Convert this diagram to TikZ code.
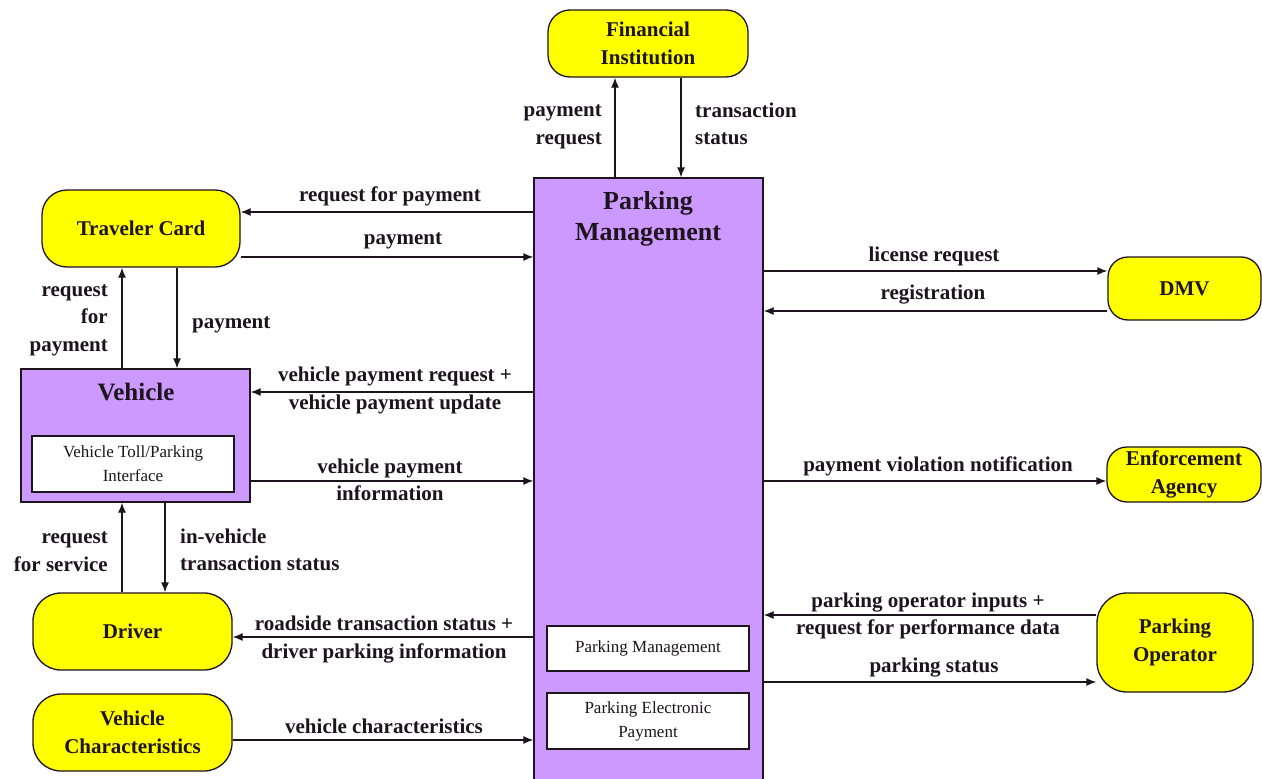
\documentclass[tikz,border=0pt]{standalone}
\usepackage{fontspec}
\setmainfont{Liberation Serif}
\usetikzlibrary{arrows.meta}
\definecolor{ylw}{RGB}{255,255,0}
\definecolor{pur}{RGB}{204,153,255}
\definecolor{ink}{RGB}{30,20,30}
\begin{document}
\begin{tikzpicture}[x=1pt,y=-1pt,
  ext/.style={draw=ink, line width=1.3pt, fill=ylw, rounded corners=22pt, align=center,
    font=\fontsize{21}{28}\selectfont\bfseries, text=ink, inner sep=0pt},
  sys/.style={draw=ink, line width=1.3pt, fill=pur, inner sep=0pt},
  inner/.style={draw=ink, line width=1.3pt, fill=white, align=center,
    font=\fontsize{17}{24}\selectfont, text=ink, inner sep=0pt},
  ttl/.style={font=\fontsize{25}{31}\selectfont\bfseries, text=ink, align=center, inner sep=0pt},
  lbl/.style={font=\fontsize{21}{27.5}\selectfont\bfseries, text=ink, align=center, inner sep=0pt},
  arr/.style={draw=ink, line width=1.3pt, -{Latex[length=10pt,width=8pt]}}]
\useasboundingbox[fill=white] (0,0) rectangle (1262,779);
% nodes
\node[sys, minimum width=229pt, minimum height=607pt] (pm) at (648.5,481.5) {};
\node[ttl, font=\fontsize{26}{31}\selectfont\bfseries] (pmt) at (648,219) {Parking\\Management};
\node[inner, minimum width=202pt, minimum height=45pt] (pmi1) at (648,648.5) {Parking Management};
\node[inner, minimum width=202pt, minimum height=56pt] (pmi2) at (648,721) {Parking Electronic\\Payment};
\node[ext, minimum width=200pt, minimum height=67pt] (fi) at (648,43.5) {Financial\\Institution};
\node[ext, minimum width=198pt, minimum height=77pt, rounded corners=25pt] (tc) at (141,228.5) {Traveler Card};
\node[sys, minimum width=229pt, minimum height=133pt] (veh) at (135.5,435.5) {};
\node[ttl] (veht) at (136,392) {Vehicle};
\node[inner, minimum width=202pt, minimum height=56pt] (vint) at (133,464) {Vehicle Toll/Parking\\Interface};
\node[ext, minimum width=199pt, minimum height=77pt, rounded corners=28pt] (drv) at (132.5,631.5) {Driver};
\node[ext, minimum width=199pt, minimum height=77pt, rounded corners=28pt] (vc) at (132.5,732.5) {Vehicle\\Characteristics};
\node[ext, minimum width=153pt, minimum height=63pt, rounded corners=20pt] (dmv) at (1184.5,288.5) {DMV};
\node[ext, minimum width=154pt, minimum height=55pt, rounded corners=20pt] (ea) at (1184,474.5) {Enforcement\\Agency};
\node[ext, minimum width=156pt, minimum height=99pt, rounded corners=30pt] (po) at (1175,642.5) {Parking\\Operator};
% connectors
\draw[arr] (pm.north -| 615,0) -- (fi.south -| 615,0);
\node[lbl, anchor=east, align=right] (l1) at (602,127) {payment\\request};
\draw[arr] (fi.south -| 681,0) -- (pm.north -| 681,0);
\node[lbl, anchor=west, align=left] (l2) at (695,124) {transaction\\status};
\draw[arr] (pm.west |- 0,212) -- (tc.east |- 0,212);
\node[lbl] (l3) at (390,196) {request for payment};
\draw[arr] (tc.east |- 0,257) -- (pm.west |- 0,257);
\node[lbl] (l4) at (403,241) {payment};
\draw[arr] (veh.north -| 122,0) -- (tc.south -| 122,0);
\node[lbl, anchor=east, align=right] (l5) at (108,320) {request\\for\\payment};
\draw[arr] (tc.south -| 177,0) -- (veh.north -| 177,0);
\node[lbl, anchor=west] (l6) at (192,325) {payment};
\draw[arr] (pm.west |- 0,392) -- (veh.east |- 0,392);
\node[lbl] (l7) at (395,390.5) {vehicle payment request +\\vehicle payment update};
\draw[arr] (veh.east |- 0,481) -- (pm.west |- 0,481);
\node[lbl] (l8) at (390,480) {vehicle payment\\information};
\draw[arr] (drv.north -| 122,0) -- (veh.south -| 122,0);
\node[lbl, anchor=east, align=right] (l9) at (108,551.5) {request\\for service};
\draw[arr] (veh.south -| 165,0) -- (drv.north -| 165,0);
\node[lbl, anchor=west, align=left] (l10) at (180,550) {in-vehicle\\transaction status};
\draw[arr] (pm.west |- 0,637) -- (drv.east |- 0,637);
\node[lbl] (l11) at (384,639.5) {roadside transaction status +\\driver parking information};
\draw[arr] (vc.east |- 0,740) -- (pm.west |- 0,740);
\node[lbl] (l12) at (384,726) {vehicle characteristics};
\draw[arr] (pm.east |- 0,271) -- (dmv.west |- 0,271);
\node[lbl] (l13) at (934,256) {license request};
\draw[arr] (dmv.west |- 0,311) -- (pm.east |- 0,311);
\node[lbl] (l14) at (933,295) {registration};
\draw[arr] (pm.east |- 0,481) -- (ea.west |- 0,481);
\node[lbl] (l15) at (938,466) {payment violation notification};
\draw[arr] (po.west |- 0,615) -- (pm.east |- 0,615);
\node[lbl] (l16) at (928,616) {parking operator inputs +\\request for performance data};
\draw[arr] (pm.east |- 0,682) -- (po.west |- 0,682);
\node[lbl] (l17) at (934,668) {parking status};
\end{tikzpicture}
\end{document}
